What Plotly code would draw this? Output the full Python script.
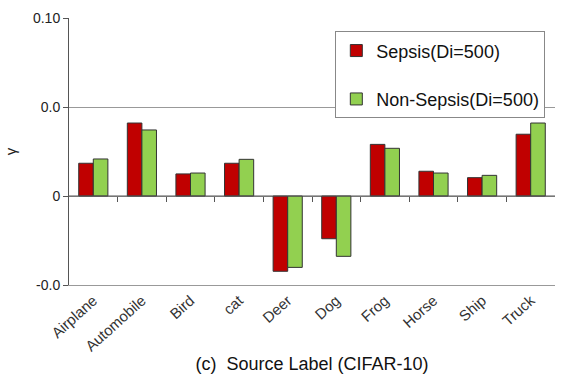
import plotly.graph_objects as go

categories = ["Airplane", "Automobile", "Bird", "cat", "Deer", "Dog", "Frog", "Horse", "Ship", "Truck"]
sepsis = [0.0184, 0.0410, 0.0124, 0.0184, -0.0423, -0.0240, 0.0290, 0.0139, 0.0103, 0.0347]
non_sepsis = [0.0208, 0.0371, 0.0129, 0.0206, -0.0401, -0.0339, 0.0268, 0.0129, 0.0116, 0.0410]
y_tickvals = [-0.05, 0.0, 0.05, 0.10]
y_ticktext = ["-0.0", "0", "0.0", "0.10"]

FONT = "Liberation Sans, Arial, sans-serif"

fig = go.Figure()
fig.add_trace(go.Bar(
    x=categories, y=sepsis, name="Sepsis(Di=500)", legendgroup="s",
    marker=dict(color="#C00000", line=dict(color="#333333", width=1)),
))
fig.add_trace(go.Bar(
    x=categories, y=non_sepsis, name="Non-Sepsis(Di=500)", legendgroup="n",
    marker=dict(color="#92D050", line=dict(color="#333333", width=1)),
))

# boundary ticks sitting on the zero line
boundaries = [i + 0.5 for i in range(len(categories) - 1)]
fig.add_trace(go.Scatter(x=[-0.5, len(categories) - 0.5], y=[0, 0], xaxis="x2",
                         mode="lines", line=dict(color="#555555", width=1),
                         showlegend=False, hoverinfo="skip"))

fig.update_layout(
    width=566, height=374,
    margin=dict(l=69, r=11, t=18, b=89, autoexpand=False),
    paper_bgcolor="white", plot_bgcolor="white",
    font=dict(family=FONT, color="#222222"),
    barmode="group", bargap=0.4, bargroupgap=0,
    legend=dict(
        x=0.548, y=0.95, xanchor="left", yanchor="top",
        bgcolor="white", bordercolor="#888888", borderwidth=1,
        font=dict(size=18, family=FONT, color="#111111"),
        tracegroupgap=22, itemwidth=30,
    ),
    xaxis=dict(
        type="category", range=[-0.5, 9.5], automargin=False,
        tickangle=-42, tickfont=dict(size=15, family=FONT, color="#333333"),
        showline=True, linecolor="#999999", linewidth=1,
        ticks="", showgrid=False,
        title=dict(text="(c)  Source Label (CIFAR-10)", font=dict(size=18, family=FONT, color="#111111"), standoff=10),
    ),
    xaxis2=dict(
        overlaying="x", anchor="free", position=1/3, range=[-0.5, 9.5],
        showline=False, ticks="outside", ticklen=5, tickcolor="#555555",
        tickvals=boundaries, showticklabels=False, showgrid=False, zeroline=False,
    ),
    yaxis=dict(
        range=[-0.05, 0.10], tickvals=y_tickvals, ticktext=y_ticktext, automargin=False,
        tickfont=dict(size=14, family=FONT, color="#222222"),
        showline=True, linecolor="#555555", linewidth=1,
        ticks="outside", ticklen=5, tickcolor="#555555",
        showgrid=True, gridcolor="#999999", gridwidth=1, zeroline=False,
        title=dict(text="γ", font=dict(size=15, family=FONT, color="#222222"), standoff=12),
    ),
)

fig.write_html("out.html")
